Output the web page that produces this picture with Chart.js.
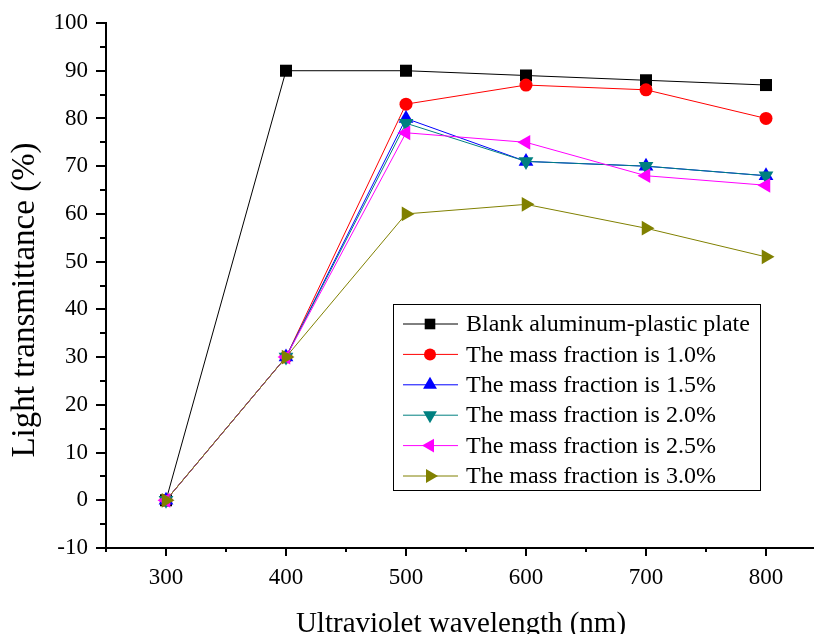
<!DOCTYPE html>
<html>
<head>
<meta charset="utf-8">
<script src="https://cdn.jsdelivr.net/npm/chart.js@4/dist/chart.umd.min.js"></script>
<style>
  html, body { margin: 0; padding: 0; background: #fff; overflow: hidden; }
  canvas { display: block; }
</style>
</head>
<body>
<canvas id="uv-chart" width="814" height="634"></canvas>
<script>
// wavelengths (nm) and light transmittance (%)
const wavelengths = [300, 400, 500, 600, 700, 800];
const blankPlate = [0, 90, 90, 89, 88, 87];
const fraction10 = [0, 30, 83, 87, 86, 80];
const fraction15 = [0, 30, 80, 71, 70, 68];
const fraction20 = [0, 30, 79, 71, 70, 68];
const fraction25 = [0, 30, 77, 75, 68, 66];
const fraction30 = [0, 30, 60, 62, 57, 51];

const seriesNames = [
  'Blank aluminum-plastic plate',
  'The mass fraction is 1.0%',
  'The mass fraction is 1.5%',
  'The mass fraction is 2.0%',
  'The mass fraction is 2.5%',
  'The mass fraction is 3.0%'
];

const xTicks = [250, 300, 350, 400, 450, 500, 550, 600, 650, 700, 750, 800];
const yTicks = [-10, -5, 0, 5, 10, 15, 20, 25, 30, 35, 40, 45, 50, 55, 60, 65, 70, 75, 80, 85, 90, 95, 100];

const FONT = '"Liberation Serif", "Times New Roman", serif';

// marker look for each series
const styles = [
  { color: '#000000', pointStyle: 'rect', rotation: 0, radius: 8.5, legendRadius: 7.5 },
  { color: '#ff0000', pointStyle: 'circle', rotation: 0, radius: 6.5, legendRadius: 6 },
  { color: '#0000ff', pointStyle: 'triangle', rotation: 0, radius: 8.5, legendRadius: 8 },
  { color: '#008080', pointStyle: 'triangle', rotation: 180, radius: 8.5, legendRadius: 8 },
  { color: '#ff00ff', pointStyle: 'triangle', rotation: -90, radius: 8.5, legendRadius: 8 },
  { color: '#808000', pointStyle: 'triangle', rotation: 90, radius: 8.5, legendRadius: 8 }
];

const allSeries = [blankPlate, fraction10, fraction15, fraction20, fraction25, fraction30];

const datasets = allSeries.map((vals, i) => ({
  label: seriesNames[i],
  data: wavelengths.map((w, j) => ({ x: w, y: vals[j] })),
  borderColor: styles[i].color,
  backgroundColor: styles[i].color,
  borderWidth: 1,
  pointStyle: styles[i].pointStyle,
  pointRotation: styles[i].rotation,
  pointRadius: styles[i].radius,
  pointBorderWidth: 0,
  order: 6 - i, // later series drawn on top
  tension: 0,
  clip: false
}));

// tick marks (major longer than minor), axis titles and the boxed legend
const decorations = {
  id: 'decorations',
  afterDraw(chart) {
    const ctx = chart.ctx;
    const xs = chart.scales.x;
    const ys = chart.scales.y;
    ctx.save();
    ctx.strokeStyle = '#000';
    ctx.lineWidth = 2;
    xTicks.forEach(v => {
      const px = Math.round(xs.getPixelForValue(v));
      const len = v % 100 === 0 ? 8 : 4;
      ctx.beginPath();
      ctx.moveTo(px, xs.top);
      ctx.lineTo(px, xs.top + len);
      ctx.stroke();
    });
    yTicks.forEach(v => {
      const py = Math.round(ys.getPixelForValue(v));
      const len = v % 10 === 0 ? 10 : 6;
      ctx.beginPath();
      ctx.moveTo(ys.right, py);
      ctx.lineTo(ys.right - len, py);
      ctx.stroke();
    });

    // axis titles
    ctx.fillStyle = '#000';
    ctx.font = '29px ' + FONT;
    ctx.textAlign = 'center';
    ctx.textBaseline = 'alphabetic';
    ctx.fillText('Ultraviolet wavelength (nm)', 461, 632);
    ctx.save();
    ctx.translate(34, 300);
    ctx.rotate(-Math.PI / 2);
    ctx.font = '33px ' + FONT;
    ctx.fillText('Light transmittance (%)', 0, 0);
    ctx.restore();

    // legend
    ctx.lineWidth = 1;
    ctx.strokeRect(393.5, 304.5, 367, 186);
    ctx.font = '24px ' + FONT;
    ctx.textAlign = 'left';
    ctx.textBaseline = 'middle';
    styles.forEach((s, i) => {
      const y = 324 + i * 30.4;
      ctx.strokeStyle = s.color;
      ctx.fillStyle = s.color;
      ctx.beginPath();
      ctx.moveTo(403, y);
      ctx.lineTo(458, y);
      ctx.stroke();
      Chart.helpers.drawPoint(ctx, {
        pointStyle: s.pointStyle,
        rotation: s.rotation,
        radius: s.legendRadius,
        borderWidth: 0
      }, 430, y);
      ctx.fillStyle = '#000';
      ctx.fillText(seriesNames[i], 466, y + 1);
    });
    ctx.restore();
  }
};

new Chart(document.getElementById('uv-chart'), {
  type: 'line',
  data: { datasets: datasets },
  options: {
    responsive: false,
    animation: false,
    layout: { autoPadding: false, padding: { top: 23, right: 0, bottom: 0, left: 0 } },
    plugins: {
      legend: { display: false },
      tooltip: { enabled: false }
    },
    scales: {
      x: {
        type: 'linear',
        min: 250,
        max: 840,
        afterBuildTicks: scale => { scale.ticks = xTicks.map(v => ({ value: v })); },
        afterFit: scale => { scale.height = 86; scale.paddingLeft = 0; scale.paddingRight = 0; },
        border: { color: '#000', width: 2 },
        grid: { drawOnChartArea: false, drawTicks: false },
        ticks: {
          color: '#000',
          padding: 16,
          maxRotation: 0,
          autoSkip: false,
          font: { family: FONT, size: 23 },
          callback: v => (v % 100 === 0 ? v : '')
        }
      },
      y: {
        min: -10,
        max: 100,
        afterBuildTicks: scale => { scale.ticks = yTicks.map(v => ({ value: v })); },
        afterFit: scale => { scale.width = 106; scale.paddingTop = 0; scale.paddingBottom = 0; },
        border: { color: '#000', width: 2 },
        grid: { drawOnChartArea: false, drawTicks: false },
        ticks: {
          color: '#000',
          padding: 18,
          autoSkip: false,
          font: { family: FONT, size: 23 },
          callback: v => (v % 10 === 0 ? v : '')
        }
      }
    }
  },
  plugins: [decorations]
});
</script>
</body>
</html>
